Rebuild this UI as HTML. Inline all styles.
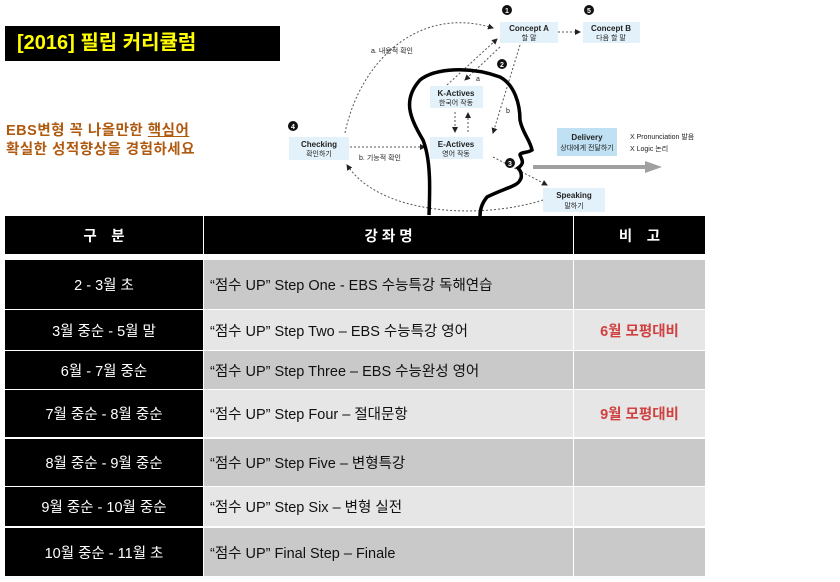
<!DOCTYPE html>
<html><head><meta charset="utf-8"><style>
body{margin:0;width:840px;height:582px;background:#fff;position:relative;overflow:hidden;font-family:"Liberation Sans","Noto Sans CJK KR",sans-serif}
.title{position:absolute;left:5px;top:26px;width:275px;height:35px;background:#000;color:#ffff00;font-weight:bold;font-size:20px;line-height:35px;padding-left:12px;box-sizing:border-box}
.sub{position:absolute;left:6px;top:122px;color:#b05a10;font-weight:bold;font-size:14.5px;line-height:19px;letter-spacing:0.5px}
.c{position:absolute;box-sizing:border-box;display:flex;align-items:center;font-size:14.5px}
.k{background:#000;color:#fff;justify-content:center}
.h{font-weight:bold}
.g{background:#c9c9c9;color:#111;padding-left:6px}
.l{background:#e6e6e6;color:#111;padding-left:6px}
.r{color:#d04040;font-weight:bold;justify-content:center}
svg{position:absolute;left:0;top:0}
</style></head><body>
<div class="title">[2016] 필립 커리큘럼</div>
<div class="sub">EBS변형 꼭 나올만한 <u>핵심어</u><br>확실한 성적향상을 경험하세요</div>
<svg width="840" height="220" viewBox="0 0 840 220">
<defs><marker id="a" markerWidth="6" markerHeight="6" refX="5" refY="3" orient="auto"><path d="M0,0L6,3L0,6z" fill="#222"/></marker></defs>
<g fill="#e3f1fa">
<rect x="500" y="22" width="58" height="21"/><rect x="583" y="22" width="57" height="21"/>
<rect x="430" y="86" width="53" height="22"/><rect x="430" y="137" width="53" height="22"/>
<rect x="289" y="137" width="60" height="23"/><rect x="543" y="188" width="62" height="24"/>
<rect x="557" y="128" width="60" height="28" fill="#bfe1f3"/></g>
<path d="M533,167H648" stroke="#a0a0a0" stroke-width="4"/><path d="M645,161L662,167L645,173z" fill="#a0a0a0"/>
<g fill="none" stroke="#555" stroke-width="1" stroke-dasharray="2,2" marker-end="url(#a)">
<path d="M345,133C360,60 420,5 493,28"/>
<path d="M558,32H580"/>
<path d="M447,85L497,39"/>
<path d="M500,47L465,80"/>
<path d="M520,45L493,133"/>
<path d="M455,112V132"/><path d="M468,132V113"/>
<path d="M350,147H425"/>
<path d="M493,157L547,185"/>
<path d="M543,200C480,220 380,215 347,165"/>
</g>
<path d="M429,215C430,190 431,160 423,140C410,118 402,100 420,80C435,68 470,66 500,77C515,85 520,105 520,120C522,132 530,140 532,150C528,153 520,152 520,155C522,160 525,163 518,168C522,172 522,178 520,180C518,186 505,188 487,197C482,203 480,210 480,216" fill="none" stroke="#000" stroke-width="3.5"/>
<g font-size="8" fill="#222" text-anchor="middle">
<text x="529" y="31" font-weight="bold">Concept A</text><text x="529" y="40" font-size="7">할 말</text>
<text x="611" y="31" font-weight="bold">Concept B</text><text x="611" y="40" font-size="7">다음 할 말</text>
<text x="456" y="96" font-weight="bold">K-Actives</text><text x="456" y="105" font-size="7">한국어 작동</text>
<text x="456" y="147" font-weight="bold">E-Actives</text><text x="456" y="156" font-size="7">영어 작동</text>
<text x="319" y="147" font-weight="bold">Checking</text><text x="319" y="156" font-size="7">확인하기</text>
<text x="574" y="198" font-weight="bold">Speaking</text><text x="574" y="208" font-size="7">말하기</text>
<text x="587" y="140" font-weight="bold">Delivery</text><text x="587" y="150" font-size="7">상대에게 전달하기</text>
<text x="392" y="53" font-size="7">a. 내용적 확인</text><text x="380" y="160" font-size="7">b. 기능적 확인</text>
<text x="478" y="81" font-size="7">a</text><text x="508" y="113" font-size="7">b</text>
</g>
<g font-size="7" fill="#222"><text x="630" y="139">X  Pronunciation 발음</text><text x="630" y="151">X  Logic 논리</text></g>
<g fill="#111"><circle cx="507" cy="10" r="5"/><circle cx="589" cy="10" r="5"/><circle cx="502" cy="64" r="5"/><circle cx="510" cy="163" r="5"/><circle cx="293" cy="126" r="5"/></g>
<g fill="#fff" font-size="7" font-weight="bold" text-anchor="middle"><text x="507" y="13">1</text><text x="589" y="13">5</text><text x="502" y="67">2</text><text x="510" y="166">3</text><text x="293" y="129">4</text></g>
</svg>
<div class="c k h" style="left:5px;top:216px;width:198px;height:38px">구　분</div>
<div class="c k h" style="left:204px;top:216px;width:369px;height:38px">강 좌 명</div>
<div class="c k h" style="left:574px;top:216px;width:131px;height:38px">비　고</div>

<div class="c k" style="left:5px;top:260px;width:198px;height:49px">2 - 3월 초</div>
<div class="c g" style="left:204px;top:260px;width:369px;height:49px">“점수 UP” Step One - EBS 수능특강 독해연습</div>
<div class="c g" style="left:574px;top:260px;width:131px;height:49px"></div>

<div class="c k" style="left:5px;top:310px;width:198px;height:40px">3월 중순 - 5월 말</div>
<div class="c l" style="left:204px;top:310px;width:369px;height:40px">“점수 UP” Step Two – EBS 수능특강 영어</div>
<div class="c l r" style="left:574px;top:310px;width:131px;height:40px;padding:0">6월 모평대비</div>

<div class="c k" style="left:5px;top:351px;width:198px;height:38px">6월 - 7월 중순</div>
<div class="c g" style="left:204px;top:351px;width:369px;height:38px">“점수 UP” Step Three – EBS 수능완성 영어</div>
<div class="c g" style="left:574px;top:351px;width:131px;height:38px"></div>

<div class="c k" style="left:5px;top:390px;width:198px;height:47px">7월 중순 - 8월 중순</div>
<div class="c l" style="left:204px;top:390px;width:369px;height:47px">“점수 UP” Step Four – 절대문항</div>
<div class="c l r" style="left:574px;top:390px;width:131px;height:47px;padding:0">9월 모평대비</div>

<div class="c k" style="left:5px;top:439px;width:198px;height:47px">8월 중순 - 9월 중순</div>
<div class="c g" style="left:204px;top:439px;width:369px;height:47px">“점수 UP” Step Five – 변형특강</div>
<div class="c g" style="left:574px;top:439px;width:131px;height:47px"></div>

<div class="c k" style="left:5px;top:487px;width:198px;height:39px">9월 중순 - 10월 중순</div>
<div class="c l" style="left:204px;top:487px;width:369px;height:39px">“점수 UP” Step Six – 변형 실전</div>
<div class="c l" style="left:574px;top:487px;width:131px;height:39px"></div>

<div class="c k" style="left:5px;top:528px;width:198px;height:48px">10월 중순 - 11월 초</div>
<div class="c g" style="left:204px;top:528px;width:369px;height:48px">“점수 UP” Final Step – Finale</div>
<div class="c g" style="left:574px;top:528px;width:131px;height:48px"></div>
</body></html>
